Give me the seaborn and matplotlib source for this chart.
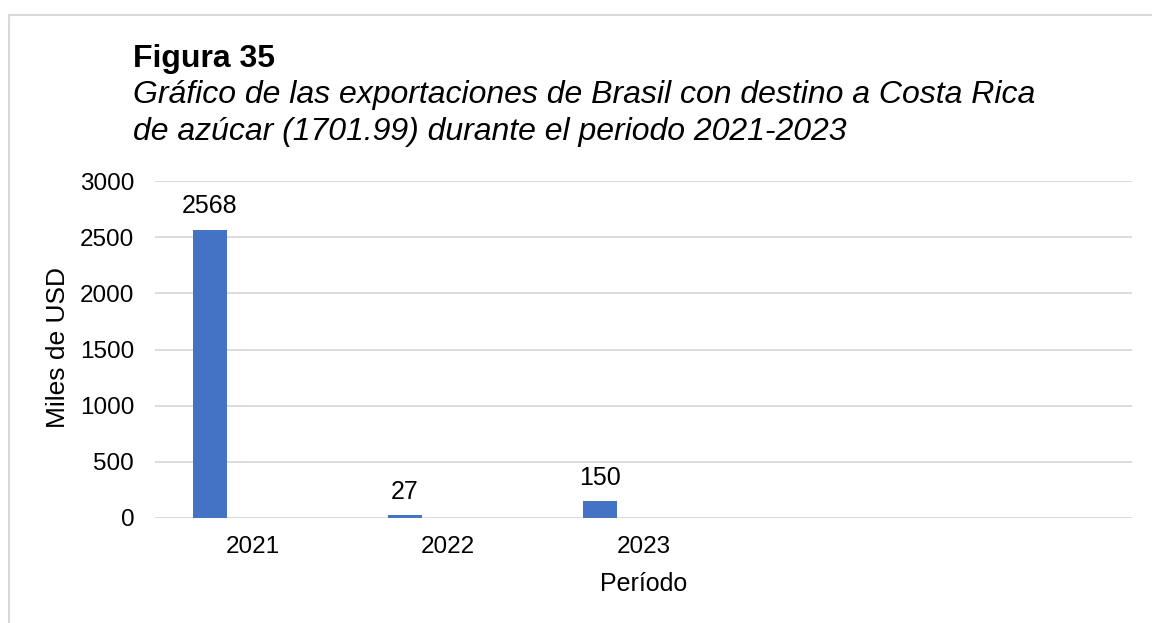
import pandas as pd
import matplotlib.pyplot as plt
import seaborn as sns
from matplotlib.lines import Line2D

# data
periodos = ['2021', '2022', '2023']
valores = [2568, 27, 150]
# Excel-style empty category slots on the right
orden = ['2021', '2022', '2023', '', ' ']
series = ['S1', 'S2', 'S3']

df = pd.DataFrame({'Periodo': periodos, 'Valor': valores, 'Serie': 'S1'})

sns.set_style('white')
plt.rcParams['font.family'] = ['Liberation Sans', 'DejaVu Sans']
plt.rcParams['text.color'] = 'black'
plt.rcParams['axes.labelcolor'] = 'black'
plt.rcParams['xtick.color'] = 'black'
plt.rcParams['ytick.color'] = 'black'

fig = plt.figure(figsize=(11.52, 6.23), dpi=100)
ax = fig.add_axes([155 / 1152, 1 - 518 / 623, (1132 - 155) / 1152, (518 - 181) / 623])

sns.barplot(data=df, x='Periodo', y='Valor', hue='Serie', order=orden,
            hue_order=series, palette=['#4472C4'] * 3, width=0.661, gap=0.21,
            dodge=True, legend=False, ax=ax, saturation=1, edgecolor='none')

ax.bar_label(ax.containers[0], fmt='%d', padding=8, fontsize=18)

ax.set_ylim(0, 3000)
ax.set_yticks(range(0, 3001, 500))
ax.grid(axis='y', color='#D9D9D9', linewidth=1.3)
ax.set_axisbelow(True)
sns.despine(ax=ax, left=True, bottom=True, top=True, right=True)
ax.tick_params(axis='both', length=0, labelsize=17.5)
ax.tick_params(axis='y', pad=15)
ax.tick_params(axis='x', pad=13)

ax.set_xlabel('Período', fontsize=18, labelpad=10)
ax.set_ylabel('')
fig.text(58 / 1152, 1 - 348 / 623, 'Miles de USD', rotation=90, fontsize=19,
         ha='center', va='center')

# titles
fig.text(133 / 1152, 1 - 67 / 623, 'Figura 35', fontsize=23, fontweight='bold',
         va='baseline')
fig.text(133 / 1152, 1 - 103 / 623,
         'Gráfico de las exportaciones de Brasil con destino a Costa Rica',
         fontsize=23, style='italic', va='baseline')
fig.text(133 / 1152, 1 - 140 / 623,
         'de azúcar (1701.99) durante el periodo 2021-2023',
         fontsize=23, style='italic', va='baseline')

# cropped frame (only top and left visible)
fig.add_artist(Line2D([9 / 1152, 1], [1 - 15 / 623] * 2, transform=fig.transFigure,
                      color='#D9D9D9', linewidth=1.5))
fig.add_artist(Line2D([9 / 1152] * 2, [0, 1 - 15 / 623], transform=fig.transFigure,
                      color='#D9D9D9', linewidth=1.5))

fig.savefig('out.png', dpi=100)
